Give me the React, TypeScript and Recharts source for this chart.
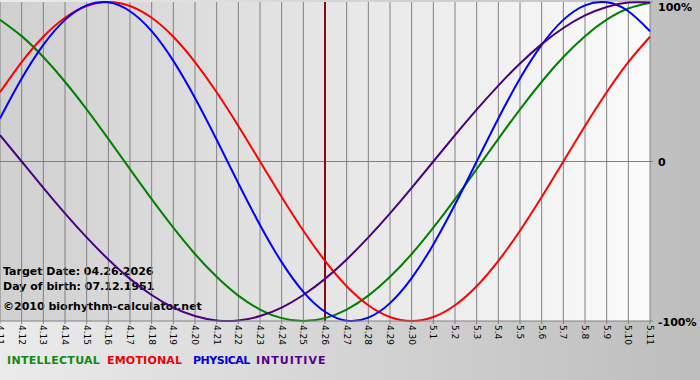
import React from "react";
import { LineChart, Line, XAxis, YAxis, CartesianGrid, ReferenceLine } from "recharts";

const days = ["4.11","4.12","4.13","4.14","4.15","4.16","4.17","4.18","4.19","4.20","4.21","4.22","4.23","4.24","4.25","4.26","4.27","4.28","4.29","4.30","5.1","5.2","5.3","5.4","5.5","5.6","5.7","5.8","5.9","5.10","5.11"];
const intellectual = [0.889,0.786,0.655,0.5,0.327,0.142,-0.048,-0.236,-0.415,-0.58,-0.723,-0.841,-0.928,-0.982,-1,-0.982,-0.928,-0.841,-0.723,-0.58,-0.415,-0.236,-0.048,0.142,0.327,0.5,0.655,0.786,0.889,0.959,0.995];
const emotional = [0.434,0.623,0.782,0.901,0.975,1,0.975,0.901,0.782,0.623,0.434,0.223,0,-0.223,-0.434,-0.623,-0.782,-0.901,-0.975,-1,-0.975,-0.901,-0.782,-0.623,-0.434,-0.223,0,0.223,0.434,0.623,0.782];
const physical = [0.27,0.52,0.731,0.888,0.979,0.998,0.942,0.817,0.631,0.398,0.136,-0.136,-0.398,-0.631,-0.817,-0.942,-0.998,-0.979,-0.888,-0.731,-0.52,-0.27,0,0.27,0.52,0.731,0.888,0.979,0.998,0.942,0.817];
const intuitive = [0.165,0,-0.165,-0.325,-0.476,-0.614,-0.736,-0.837,-0.916,-0.969,-0.997,-0.997,-0.969,-0.916,-0.837,-0.736,-0.614,-0.476,-0.325,-0.165,0,0.165,0.325,0.476,0.614,0.736,0.837,0.916,0.969,0.997,0.997];
const yTicks = [-1, 0, 1];
const yTickLabels: Record<string, string> = { "-1": "-100%", "0": "0", "1": "100%" };
const targetDay = "4.26";
const infoLines = ["Target Date: 04.26.2026", "Day of birth: 07.12.1951", "©2010 biorhythm-calculator.net"];
const legendItems = [
  { name: "INTELLECTUAL", color: "#108a10", x: 7, ls: 0.3 },
  { name: "EMOTIONAL", color: "#ee0000", x: 107, ls: 0.2 },
  { name: "PHYSICAL", color: "#0000dd", x: 193, ls: -0.5 },
  { name: "INTUITIVE", color: "#55008f", x: 256, ls: 1.0 },
];

const data = days.map((d, i) => ({
  day: d,
  intellectual: intellectual[i],
  emotional: emotional[i],
  physical: physical[i],
  intuitive: intuitive[i],
}));

const FONT = "'DejaVu Sans', Verdana, sans-serif";

const XTick = (props: any) => {
  const { x, y, payload } = props;
  return (
    <text
      x={x}
      y={y + 1}
      transform={`rotate(90 ${x} ${y + 1})`}
      textAnchor="start"
      dominantBaseline="central"
      fontSize={9}
      fontFamily={FONT}
      fill="#000"
    >
      {payload.value}
    </text>
  );
};

const YTick = (props: any) => {
  const { x, y, payload } = props;
  const dy = payload.value === 1 ? -2 : payload.value === -1 ? 1 : 0.5;
  return (
    <text
      x={x}
      y={y + dy}
      textAnchor="start"
      dominantBaseline="central"
      fontSize={11}
      fontWeight="bold"
      fontFamily={FONT}
      fill="#000"
    >
      {yTickLabels[String(payload.value)]}
    </text>
  );
};

export default function App() {
  return (
    <div
      style={{
        position: "absolute",
        left: 0,
        top: 0,
        width: 700,
        height: 380,
        background: "linear-gradient(to right, #ebebeb, #bdbdbd)",
        overflow: "hidden",
      }}
    >
      <div
        style={{
          position: "absolute",
          left: 0,
          top: 2,
          width: 650,
          height: 319,
          background: "linear-gradient(to right, #d0d0d0, #fbfbfb)",
        }}
      />
      {infoLines.map((t, i) => (
        <div
          key={t}
          style={{
            position: "absolute",
            left: 3,
            top: [264, 279, 299][i],
            fontFamily: FONT,
            fontWeight: "bold",
            fontSize: 11,
            lineHeight: "16px",
            letterSpacing: 0,
            color: "#000",
            whiteSpace: "nowrap",
          }}
        >
          {t}
        </div>
      ))}
      {legendItems.map((l) => (
        <div
          key={l.name}
          style={{
            position: "absolute",
            left: l.x,
            top: 353,
            fontFamily: FONT,
            fontWeight: "bold",
            fontSize: 11,
            lineHeight: "16px",
            letterSpacing: l.ls,
            color: l.color,
            whiteSpace: "nowrap",
          }}
        >
          {l.name}
        </div>
      ))}
      <div style={{ position: "absolute", left: 0, top: 0 }}>
        <LineChart width={700} height={380} data={data} margin={{ top: 2, right: 0, left: 0, bottom: 19 }}>
          <CartesianGrid vertical={true} horizontal={false} stroke="#808080" strokeDasharray="" />
          <XAxis
            dataKey="day"
            interval={0}
            height={40}
            tick={<XTick />}
            tickSize={3}
            tickMargin={0}
            axisLine={{ stroke: "#808080" }}
            tickLine={{ stroke: "#808080" }}
          />
          <YAxis
            orientation="right"
            width={50}
            domain={[-1, 1]}
            ticks={yTicks}
            tick={<YTick />}
            tickSize={3}
            tickMargin={5}
            axisLine={false}
            tickLine={{ stroke: "#808080" }}
          />
          <ReferenceLine y={0} stroke="#808080" />
          <ReferenceLine x={targetDay} stroke="#8b0a0a" strokeWidth={2} />
          <Line type="natural" dataKey="intellectual" stroke="#008000" strokeWidth={2} dot={false} isAnimationActive={false} />
          <Line type="natural" dataKey="emotional" stroke="#ff0000" strokeWidth={2} dot={false} isAnimationActive={false} />
          <Line type="natural" dataKey="physical" stroke="#0000ff" strokeWidth={2} dot={false} isAnimationActive={false} />
          <Line type="natural" dataKey="intuitive" stroke="#4b0082" strokeWidth={2} dot={false} isAnimationActive={false} />
        </LineChart>
      </div>
    </div>
  );
}
